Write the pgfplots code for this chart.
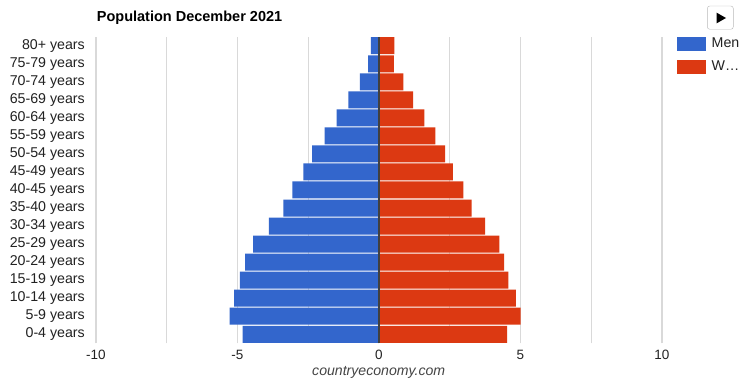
\documentclass[border=0pt]{standalone}
\usepackage{pgfplots}
\pgfplotsset{compat=1.18}
\usepackage{fontspec}
\setmainfont{Liberation Sans}
\definecolor{menblue}{HTML}{3366CC}
\definecolor{womred}{HTML}{DC3912}
\definecolor{gridgray}{HTML}{D9D9D9}
\definecolor{labgray}{HTML}{222222}
\definecolor{srcgray}{HTML}{444444}
\begin{document}
\begin{tikzpicture}[x=1pt,y=1pt]
\useasboundingbox (0,0) rectangle (740,381);
\fill[white] (0,0) rectangle (740,381);
\node[anchor=base west, font=\fontsize{14.5}{16}\selectfont\bfseries, inner sep=0pt, text=black] at (96.7,359.5) {Population December 2021};
\begin{axis}[
  at={(96pt,37.7pt)}, anchor=south west, scale only axis,
  width=566pt, height=306.6pt,
  xmin=-10, xmax=10, ymin=-0.5, ymax=16.5,
  axis line style={draw=none}, tick style={draw=none},
  xtick={-10,-5,0,5,10}, minor xtick={-7.5,-2.5,2.5,7.5},
  xmajorgrids, xminorgrids,
  grid style={gridgray, line width=1.2pt},
  minor grid style={gridgray, line width=1.2pt},
  ytick={0,...,16},
  yticklabels={0-4 years,5-9 years,10-14 years,15-19 years,20-24 years,25-29 years,30-34 years,35-40 years,40-45 years,45-49 years,50-54 years,55-59 years,60-64 years,65-69 years,70-74 years,75-79 years,80+ years},
  yticklabel style={anchor=east, inner sep=0pt, xshift=-11pt, font=\fontsize{14.2}{16}\selectfont, text=labgray},
  xticklabel style={anchor=north, inner sep=0pt, yshift=-6.5pt, font=\fontsize{13.5}{16}\selectfont, text=labgray},
  /pgf/number format/assume math mode=true,
  legend style={at={(rel axis cs:1,1)}, anchor=north west, xshift=14.7pt, draw=none, fill=none,
    inner sep=0pt, outer sep=0pt, row sep=9pt, font=\fontsize{14.2}{16}\selectfont, text=labgray,
    nodes={inner sep=0pt}, /tikz/every odd column/.append style={column sep=6pt}},
  legend cell align=left,
]
\addplot[xbar, bar shift=0pt, bar width=17pt, fill=menblue, draw=none,
  legend image code/.code={\fill[menblue] (0pt,-7pt) rectangle (29pt,7pt);}]
  coordinates {(-4.82,0) (-5.28,1) (-5.12,2) (-4.92,3) (-4.73,4) (-4.45,5) (-3.89,6) (-3.38,7) (-3.06,8) (-2.67,9) (-2.36,10) (-1.92,11) (-1.50,12) (-1.08,13) (-0.68,14) (-0.38,15) (-0.29,16)};
\addlegendentry{Men}
\addplot[xbar, bar shift=0pt, bar width=17pt, fill=womred, draw=none,
  legend image code/.code={\fill[womred] (0pt,-7pt) rectangle (29pt,7pt);}]
  coordinates {(4.53,0) (5.00,1) (4.84,2) (4.57,3) (4.42,4) (4.25,5) (3.75,6) (3.27,7) (2.98,8) (2.61,9) (2.34,10) (1.99,11) (1.60,12) (1.21,13) (0.86,14) (0.53,15) (0.54,16)};
\addlegendentry{W\ldots}
\draw[black!75, line width=1.2pt] (axis cs:0,-0.5) -- (axis cs:0,16.5);
\end{axis}
\node[anchor=base, font=\fontsize{14.1}{16}\selectfont\itshape, inner sep=0pt, text=srcgray] at (378.7,6) {countryeconomy.com};
\draw[gray!55, fill=white, rounded corners=2.5pt] (707.3,351.7) rectangle (733.3,375);
\fill[black] (716.7,368.3) -- (716.7,357.7) -- (726,363) -- cycle;
\end{tikzpicture}
\end{document}
